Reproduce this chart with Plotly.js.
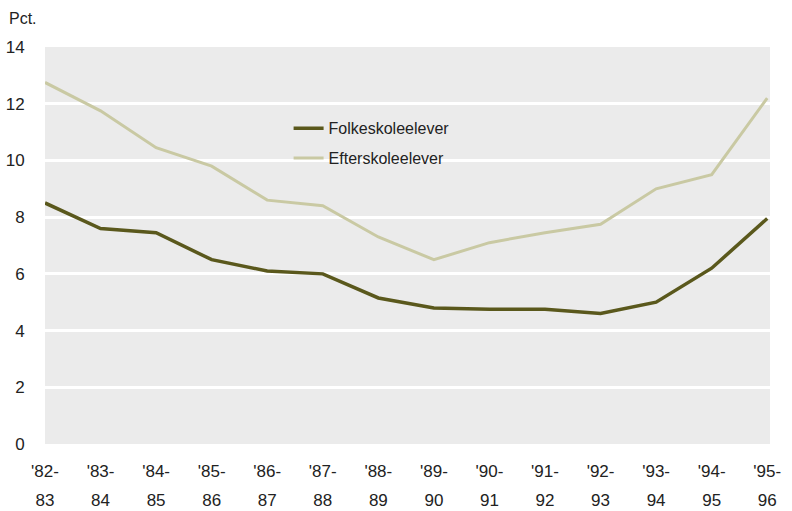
<!DOCTYPE html>
<html>
<head>
<meta charset="utf-8">
<script src="https://cdn.plot.ly/plotly-3.0.1.min.js"></script>
<style>html,body{margin:0;padding:0;background:#fff;}#chart{width:792px;height:511px;}</style>
</head>
<body>
<div id="chart"></div>
<script>
const seasonTop = ["'82-","'83-","'84-","'85-","'86-","'87-","'88-","'89-","'90-","'91-","'92-","'93-","'94-","'95-"];
const seasonBottom = ["83","84","85","86","87","88","89","90","91","92","93","94","95","96"];
const folkeskole = [8.5, 7.6, 7.45, 6.5, 6.1, 6.0, 5.15, 4.8, 4.75, 4.75, 4.6, 5.0, 6.2, 7.95];
const efterskole = [12.75, 11.75, 10.45, 9.8, 8.6, 8.4, 7.3, 6.5, 7.1, 7.45, 7.75, 9.0, 9.5, 12.2];
const seriesNames = ["Folkeskoleelever", "Efterskoleelever"];
const yTicks = [0, 2, 4, 6, 8, 10, 12, 14];

const idx = seasonTop.map((_, i) => i);
const font = "Liberation Sans, Arial, sans-serif";

const traces = [
  {x: idx, y: folkeskole, name: seriesNames[0], mode: 'lines', legendgroup: 'a',
   line: {color: '#5a581c', width: 3.5}},
  {x: idx, y: efterskole, name: seriesNames[1], mode: 'lines', legendgroup: 'b',
   line: {color: '#c9c9a3', width: 3}},
  {x: idx, y: idx.map(() => null), xaxis: 'x2', showlegend: false, hoverinfo: 'skip', mode: 'lines'}
];

const layout = {
  width: 792, height: 511,
  margin: {l: 45, r: 22, t: 47, b: 67},
  paper_bgcolor: '#ffffff',
  plot_bgcolor: '#ebebeb',
  font: {family: font, size: 17, color: '#222'},
  showlegend: true,
  legend: {
    x: 0.336, y: 0.838, xanchor: 'left', yanchor: 'top',
    bgcolor: 'rgba(0,0,0,0)', font: {family: font, size: 16, color: '#222'},
    traceorder: 'grouped', tracegroupgap: 6
  },
  xaxis: {
    range: [0, 13.05], tickvals: idx, ticktext: seasonTop,
    ticks: 'outside', ticklen: 12, tickcolor: 'rgba(0,0,0,0)',
    showgrid: false, zeroline: false, showline: false,
    tickfont: {family: font, size: 17, color: '#222'}, fixedrange: true
  },
  xaxis2: {
    overlaying: 'x', matches: 'x', anchor: 'y', side: 'bottom',
    range: [0, 13.05], tickvals: idx, ticktext: seasonBottom,
    ticks: 'outside', ticklen: 41, tickcolor: 'rgba(0,0,0,0)',
    showgrid: false, zeroline: false, showline: false,
    tickfont: {family: font, size: 17, color: '#222'}
  },
  yaxis: {
    range: [0, 14], tickvals: yTicks, ticktext: yTicks.map(String),
    ticks: 'outside', ticklen: 16, tickcolor: 'rgba(0,0,0,0)',
    showgrid: true, gridcolor: '#ffffff', gridwidth: 3,
    zeroline: false, showline: false,
    tickfont: {family: font, size: 17, color: '#222'}
  },
  annotations: [{
    text: 'Pct.', xref: 'paper', yref: 'paper',
    x: -0.052, y: 1.045, xanchor: 'left', yanchor: 'bottom',
    showarrow: false, font: {family: font, size: 16, color: '#222'}
  }]
};

Plotly.newPlot('chart', traces, layout, {displayModeBar: false, staticPlot: true});
</script>
</body>
</html>
